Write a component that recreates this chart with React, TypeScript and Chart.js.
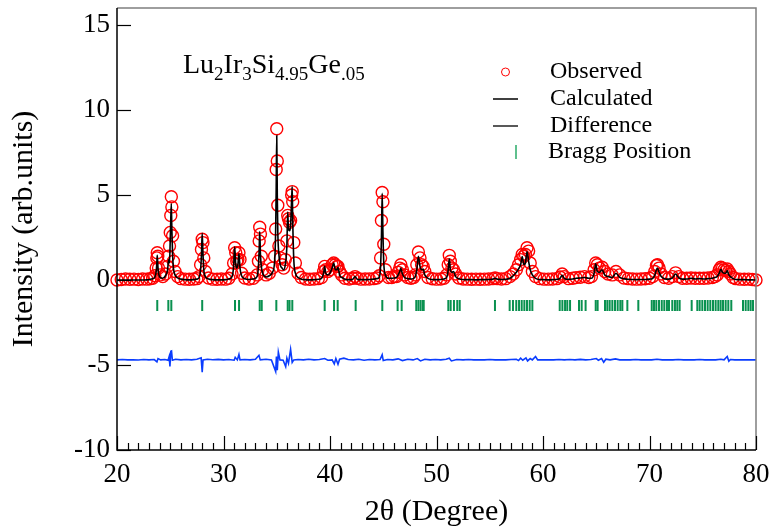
import React, { useEffect, useRef } from "react";
import { Chart, registerables } from "chart.js";

Chart.register(...registerables);

// ---- data (2θ in degrees, intensity in arb. units) ----
const twoTheta = [
  20, 20.4, 20.8, 21.2, 21.6, 22.0, 22.4, 22.8, 23.1, 23.35,
  23.55, 23.68, 23.74, 23.78, 23.83, 23.9, 24.05,
  24.3, 24.55,
  24.75, 24.85, 24.93, 25.0, 25.05, 25.1, 25.15, 25.22, 25.3, 25.45, 25.7,
  26.0, 26.4, 26.8, 27.2, 27.5,
  27.7, 27.85, 27.93, 28.0, 28.07, 28.15, 28.3, 28.6,
  29.0, 29.4, 29.8, 30.2, 30.5,
  30.8, 30.95, 31.05, 31.15, 31.25, 31.35, 31.45, 31.55, 31.7, 32.0,
  32.4, 32.8,
  33.15, 33.28, 33.35, 33.4, 33.47, 33.55, 33.7, 34.0,
  34.3, 34.6, 34.8, 34.9, 34.95, 35.0, 35.05, 35.1, 35.2, 35.35, 35.5,
  35.65, 35.8, 35.95, 36.03, 36.1, 36.2, 36.3, 36.4, 36.45, 36.5, 36.6, 36.75, 37.0, 37.3,
  37.7, 38.1, 38.5, 38.9,
  39.2, 39.4, 39.5, 39.6, 39.8, 40.0, 40.2, 40.35, 40.5, 40.65, 40.75, 40.9, 41.1, 41.4,
  41.8, 42.15, 42.35, 42.55, 42.9, 43.3, 43.7, 44.1, 44.4,
  44.62, 44.75, 44.83, 44.9, 44.97, 45.05, 45.2, 45.5,
  45.8, 46.05,
  46.25, 46.4, 46.55, 46.65, 46.8, 47.0, 47.3,
  47.6, 47.85,
  48.0, 48.15, 48.3, 48.45, 48.6, 48.75, 48.9, 49.2,
  49.6, 50.0, 50.4, 50.7,
  50.95, 51.1, 51.2, 51.3, 51.45, 51.6, 51.8, 52.1,
  52.5, 52.9, 53.3, 53.7, 54.1, 54.5, 54.9, 55.3, 55.5, 55.7, 56.1, 56.5,
  56.9, 57.2, 57.5, 57.7, 57.9, 58.05, 58.2, 58.35, 58.5, 58.65, 58.8, 59.0, 59.3, 59.7,
  60.1, 60.5, 60.9, 61.3, 61.6, 61.8, 62.0, 62.4, 62.8, 63.1, 63.5, 63.9, 64.3,
  64.55, 64.8, 64.95, 65.1, 65.3, 65.55, 65.8, 66.1, 66.5, 66.85, 67.2, 67.6,
  68.0, 68.4, 68.8, 69.2, 69.6, 70.0,
  70.3, 70.5, 70.65, 70.75, 70.9, 71.1, 71.4,
  71.8, 72.15, 72.45, 72.75, 73.1, 73.5, 73.9, 74.3, 74.7, 75.1, 75.5, 75.9, 76.15,
  76.35, 76.55, 76.7, 76.85, 77.0, 77.15, 77.3, 77.45, 77.6, 77.85, 78.1,
  78.5, 78.9, 79.3, 79.65, 80.0,
];

const observed = [
  0.0, 0.03, 0.06, 0.04, 0.05, 0.03, 0.06, 0.05, 0.07, 0.1,
  0.25, 0.7, 1.3, 1.6, 1.4, 0.7, 0.3,
  0.2, 0.35,
  0.8, 1.4, 2.0, 2.8, 3.8, 4.9, 4.3, 2.6, 1.1, 0.5, 0.2,
  0.08, 0.05, 0.04, 0.06, 0.08,
  0.2, 0.9, 1.8, 2.4, 2.2, 1.3, 0.5, 0.12,
  0.05, 0.04, 0.06, 0.05, 0.1,
  0.35, 1.0, 1.9, 1.6, 1.1, 1.2, 1.6, 1.2, 0.4, 0.12,
  0.06, 0.1,
  0.3, 1.1, 2.3, 3.1, 2.7, 1.4, 0.6, 0.3,
  0.4, 0.7, 1.4, 3.0, 6.5, 8.9, 7.0, 4.4, 2.0, 1.3, 0.9,
  0.7, 1.2, 2.3, 3.8, 3.6, 3.4, 3.5, 5.0, 5.2, 4.6, 2.2, 1.0, 0.4, 0.15,
  0.06, 0.04, 0.06, 0.08,
  0.15, 0.5, 0.8, 0.6, 0.5, 0.6, 0.9, 1.0, 0.9, 0.8, 0.8, 0.5, 0.3, 0.1,
  0.06, 0.1, 0.2, 0.1, 0.05, 0.06, 0.06, 0.08, 0.12,
  0.25, 1.3, 3.5, 5.15, 4.6, 2.1, 0.6, 0.15,
  0.15, 0.2,
  0.2, 0.45, 0.7, 0.9, 0.6, 0.3, 0.15,
  0.1, 0.15,
  0.3, 0.9, 1.65, 1.3, 0.9, 0.8, 0.5, 0.15,
  0.07, 0.05, 0.06, 0.1,
  0.3, 0.9, 1.45, 1.1, 0.7, 0.6, 0.35, 0.12,
  0.06, 0.05, 0.04, 0.05, 0.04, 0.05, 0.06, 0.08, 0.12, 0.08, 0.06, 0.08,
  0.2, 0.35, 0.6, 0.9, 1.2, 1.5, 1.4, 1.5, 1.9, 1.7, 1.0, 0.5, 0.2, 0.08,
  0.05, 0.05, 0.06, 0.08, 0.18, 0.35, 0.2, 0.08, 0.1, 0.14, 0.16, 0.2, 0.15,
  0.2, 0.6, 1.0, 0.9, 0.7, 0.75, 0.5, 0.35, 0.3, 0.5, 0.3, 0.12,
  0.08, 0.06, 0.05, 0.06, 0.07, 0.1,
  0.2, 0.5, 0.85, 0.9, 0.7, 0.35, 0.15,
  0.1, 0.2, 0.42, 0.2, 0.1, 0.1, 0.12, 0.1, 0.1, 0.1, 0.12, 0.15, 0.2,
  0.3, 0.6, 0.75, 0.7, 0.6, 0.55, 0.65, 0.5, 0.35, 0.15, 0.08,
  0.05, 0.04, 0.05, 0.03, 0.0,
];

const calculated = [
  0, 0, 0, 0, 0, 0, 0, 0.01, 0.03, 0.08,
  0.15, 0.5, 1.0, 1.45, 0.9, 0.4, 0.15,
  0.1, 0.25,
  0.6, 1.2, 1.0, 2.4, 3.6, 4.5, 3.0, 1.5, 0.7, 0.3, 0.12,
  0.05, 0.02, 0.01, 0.02, 0.05,
  0.12, 0.6, 1.5, 2.75, 1.6, 0.6, 0.2, 0.06,
  0.02, 0.01, 0.01, 0.02, 0.06,
  0.2, 0.8, 1.95, 0.9, 0.7, 0.9, 1.55, 0.7, 0.25, 0.07,
  0.03, 0.06,
  0.2, 0.8, 1.8, 2.85, 1.5, 0.8, 0.35, 0.18,
  0.25, 0.45, 1.1, 3.0, 5.5, 8.5, 5.0, 2.8, 1.5, 0.85, 0.7,
  0.6, 0.9, 2.0, 4.0, 3.0, 2.9, 3.2, 4.8, 5.5, 3.5, 1.2, 0.4, 0.15, 0.05,
  0.02, 0.01, 0.02, 0.04,
  0.1, 0.4, 0.8, 0.4, 0.3, 0.4, 0.7, 1.0, 0.6, 0.6, 0.75, 0.3, 0.15, 0.05,
  0.02, 0.05, 0.2, 0.05, 0.02, 0.02, 0.03, 0.05, 0.08,
  0.15, 0.8, 2.5, 5.1, 2.8, 1.0, 0.3, 0.1,
  0.1, 0.12,
  0.15, 0.3, 0.5, 0.7, 0.35, 0.15, 0.08,
  0.06, 0.1,
  0.2, 0.6, 1.4, 0.8, 0.6, 0.65, 0.3, 0.1,
  0.03, 0.02, 0.03, 0.06,
  0.15, 0.6, 1.25, 0.6, 0.45, 0.5, 0.2, 0.08,
  0.03, 0.02, 0.02, 0.01, 0.02, 0.02, 0.03, 0.05, 0.1, 0.05, 0.03, 0.04,
  0.1, 0.25, 0.45, 0.65, 0.9, 1.38, 0.9, 1.0, 1.68, 1.1, 0.6, 0.3, 0.1, 0.03,
  0.02, 0.01, 0.02, 0.04, 0.1, 0.28, 0.1, 0.04, 0.06, 0.1, 0.12, 0.15, 0.1,
  0.1, 0.4, 0.95, 0.5, 0.45, 0.6, 0.3, 0.2, 0.15, 0.4, 0.15, 0.08,
  0.04, 0.03, 0.02, 0.03, 0.03, 0.05,
  0.1, 0.3, 0.6, 0.7, 0.45, 0.2, 0.08,
  0.05, 0.12, 0.35, 0.12, 0.05, 0.06, 0.1, 0.06, 0.08, 0.06, 0.08, 0.1, 0.15,
  0.2, 0.4, 0.63, 0.45, 0.4, 0.4, 0.55, 0.3, 0.2, 0.08, 0.03,
  0.02, 0.02, 0.01, 0.01, 0.0,
];

const diffTheta = [
  20, 20.5, 21, 21.5, 22, 22.5, 23, 23.5, 23.75, 23.85,
  24.1, 24.5, 24.8, 24.9, 24.97, 25.05, 25.12, 25.2, 25.5, 26,
  26.5, 27, 27.5, 27.9, 28.0, 28.08, 28.5, 29, 29.5, 30,
  30.5, 31.0, 31.1, 31.3, 31.45, 31.55, 32, 32.5, 33.0, 33.33,
  33.45, 34.0, 34.5, 34.9, 34.97, 35.05, 35.15, 35.3, 35.6, 35.84,
  35.95, 36.1, 36.3, 36.45, 36.6, 37, 37.5, 38, 38.5, 39,
  39.5, 39.8, 40.2, 40.4, 40.55, 40.75, 40.9, 41.3, 41.7, 42.2,
  42.7, 43.2, 43.7, 44.2, 44.7, 44.9, 45.0, 45.4, 45.9, 46.4,
  46.8, 47.3, 47.8, 48.2, 48.5, 48.9, 49.4, 49.9, 50.4, 50.9,
  51.2, 51.4, 51.9, 52.5, 53, 53.5, 54, 54.5, 55, 55.5,
  56, 56.5, 57, 57.5, 57.7, 57.9, 58.1, 58.4, 58.55, 58.8,
  59.0, 59.3, 59.5, 60, 60.5, 61, 61.5, 62, 62.5, 63,
  63.5, 64, 64.5, 65.0, 65.2, 65.5, 65.7, 65.9, 66.3, 66.8,
  67.2, 67.7, 68.2, 68.7, 69.2, 69.7, 70.2, 70.7, 71.2, 71.7,
  72.2, 72.7, 73.2, 73.7, 74.2, 74.7, 75.2, 75.7, 76.2, 76.7,
  77.0, 77.3, 77.45, 77.6, 78, 78.5, 79, 79.5, 80,
];

const difference = [
  -4.7, -4.68, -4.7, -4.69, -4.71, -4.68, -4.7, -4.68, -4.82, -4.62,
  -4.7, -4.68, -4.72, -4.5, -5.09, -4.2, -4.18, -4.72, -4.66, -4.7,
  -4.68, -4.7, -4.66, -4.58, -5.43, -4.7, -4.66, -4.69, -4.67, -4.7,
  -4.68, -4.72, -4.55, -4.7, -4.38, -4.7, -4.68, -4.7, -4.66, -4.43,
  -4.7, -4.66, -4.7, -5.38, -4.5, -5.3, -4.24, -4.7, -4.72, -5.1,
  -4.6, -4.9, -4.08, -4.85, -4.7, -4.68, -4.7, -4.66, -4.7, -4.68,
  -4.62, -4.72, -4.7, -4.94, -4.62, -4.96, -4.66, -4.6, -4.68, -4.7,
  -4.66, -4.72, -4.68, -4.7, -4.68, -4.4, -4.74, -4.68, -4.7, -4.64,
  -4.74, -4.66, -4.7, -4.62, -4.76, -4.66, -4.7, -4.68, -4.7, -4.66,
  -4.6, -4.76, -4.68, -4.7, -4.68, -4.7, -4.69, -4.7, -4.68, -4.7,
  -4.69, -4.7, -4.68, -4.66, -4.74, -4.6, -4.72, -4.58, -4.76, -4.62,
  -4.7, -4.5, -4.7, -4.7, -4.69, -4.7, -4.68, -4.7, -4.68, -4.7,
  -4.67, -4.7, -4.68, -4.62, -4.72, -4.62, -4.84, -4.66, -4.7, -4.64,
  -4.7, -4.69, -4.7, -4.68, -4.7, -4.69, -4.7, -4.66, -4.7, -4.69,
  -4.7, -4.68, -4.7, -4.69, -4.7, -4.68, -4.7, -4.69, -4.7, -4.66,
  -4.7, -4.5, -4.78, -4.68, -4.7, -4.69, -4.7, -4.69, -4.7,
];

const braggPositions = [
  23.78, 24.82, 25.1, 28.0, 31.08, 31.46, 33.4, 33.59, 34.96, 36.03,
  36.2, 36.46, 39.5, 40.38, 40.72, 42.41, 44.91, 46.35, 46.73, 48.1,
  48.3, 48.5, 48.7, 48.8, 51.11, 51.33, 51.64, 51.95, 52.18, 55.49,
  56.87, 57.18, 57.49, 57.75, 58.0, 58.25, 58.5, 58.75, 59.0, 61.57,
  61.82, 62.07, 62.28, 62.54, 63.38, 63.63, 64.0, 64.95, 65.13, 65.82,
  66.04, 66.26, 66.51, 66.76, 67.01, 67.26, 67.45, 67.92, 68.95, 70.21,
  70.42, 70.64, 70.89, 71.15, 71.39, 71.64, 71.83, 72.14, 72.39, 72.61,
  72.83, 73.96, 74.49, 74.71, 74.96, 75.21, 75.46, 75.71, 75.96, 76.21,
  76.46, 76.68, 76.9, 77.15, 77.4, 77.68, 78.78, 79.03, 79.28, 79.5,
  79.72,
];
const braggLevel = -1.5;

const yTickValues = [-10, -5, 0, 5, 10, 15];
const legendLabels = ["Observed", "Calculated", "Difference", "Bragg Position"];

const SERIF = '"Liberation Serif", "Times New Roman", serif';

const decorPlugin = {
  id: "decor",
  afterDraw(chart: any) {
    const { ctx, chartArea: a, scales } = chart;
    const xs = scales.x;
    const ys = scales.y;
    ctx.save();
    // top & right frame
    ctx.strokeStyle = "#7f7f7f";
    ctx.lineWidth = 1.5;
    ctx.beginPath();
    ctx.moveTo(a.left, a.top);
    ctx.lineTo(a.right, a.top);
    ctx.lineTo(a.right, a.bottom);
    ctx.stroke();
    // left & bottom axes
    ctx.strokeStyle = "#000";
    ctx.lineWidth = 1.5;
    ctx.beginPath();
    ctx.moveTo(a.left, a.top);
    ctx.lineTo(a.left, a.bottom);
    ctx.lineTo(a.right, a.bottom);
    ctx.stroke();
    // y ticks (inward)
    ctx.lineWidth = 1.2;
    for (const v of yTickValues) {
      const py = Math.round(ys.getPixelForValue(v)) + 0.5;
      ctx.beginPath();
      ctx.moveTo(a.left, py);
      ctx.lineTo(a.left + 14, py);
      ctx.stroke();
    }
    // x ticks: major every 10, minor every 1
    for (let v = xs.min; v <= xs.max + 1e-9; v += 1) {
      const px = Math.round(xs.getPixelForValue(v)) + 0.5;
      const major = Math.abs(v % 10) < 1e-9;
      ctx.beginPath();
      ctx.moveTo(px, a.bottom);
      ctx.lineTo(px, a.bottom - (major ? 14 : 7));
      ctx.stroke();
    }

    // formula annotation
    ctx.fillStyle = "#000";
    ctx.textBaseline = "alphabetic";
    ctx.textAlign = "left";
    const parts: [string, boolean][] = [
      ["Lu", false], ["2", true], ["Ir", false], ["3", true],
      ["Si", false], ["4.95", true], ["Ge", false], [".05", true],
    ];
    let fx = 183;
    const base = 73;
    for (const [t, sub] of parts) {
      ctx.font = `${sub ? 19 : 28}px ${SERIF}`;
      ctx.fillText(t, fx, sub ? base + 7 : base);
      fx += ctx.measureText(t).width;
    }

    // legend
    const rows = [72, 99, 126, 152];
    ctx.font = `24px ${SERIF}`;
    ctx.textBaseline = "middle";
    legendLabels.forEach((lab, i) => {
      ctx.fillText(lab, i === 3 ? 548 : 550, rows[i]);
    });
    ctx.strokeStyle = "#ff0000";
    ctx.lineWidth = 1;
    ctx.beginPath();
    ctx.arc(505.5, rows[0], 4, 0, Math.PI * 2);
    ctx.stroke();
    ctx.strokeStyle = "#000";
    ctx.lineWidth = 1.5;
    ctx.beginPath();
    ctx.moveTo(493, rows[1]);
    ctx.lineTo(518, rows[1]);
    ctx.stroke();
    ctx.strokeStyle = "#222";
    ctx.beginPath();
    ctx.moveTo(493, rows[2]);
    ctx.lineTo(518, rows[2]);
    ctx.stroke();
    ctx.strokeStyle = "#5fc08e";
    ctx.lineWidth = 2;
    ctx.beginPath();
    ctx.moveTo(516, rows[3] - 7);
    ctx.lineTo(516, rows[3] + 7);
    ctx.stroke();
    ctx.restore();
  },
};

export default function App() {
  const ref = useRef<HTMLCanvasElement>(null);

  useEffect(() => {
    if (!ref.current) return;
    const obsData = twoTheta.map((x, i) => ({ x, y: observed[i] }));
    const calcData = twoTheta.map((x, i) => ({ x, y: calculated[i] }));
    const diffData = diffTheta.map((x, i) => ({ x, y: difference[i] }));
    const braggData = braggPositions.map((x) => ({ x, y: braggLevel }));

    const chart = new Chart(ref.current, {
      type: "scatter",
      data: {
        datasets: [
          {
            label: "Calculated",
            data: calcData,
            showLine: true,
            borderColor: "#000",
            borderWidth: 1.6,
            pointRadius: 0,
            cubicInterpolationMode: "monotone",
            order: 0,
          } as any,
          {
            label: "Observed",
            data: obsData,
            showLine: false,
            borderColor: "#ff0000",
            backgroundColor: "rgba(0,0,0,0)",
            borderWidth: 1.4,
            pointRadius: 6,
            order: 3,
            clip: false,
          } as any,
          {
            label: "Difference",
            data: diffData,
            showLine: true,
            borderColor: "#0a3cff",
            borderWidth: 1.6,
            pointRadius: 0,
            order: 1,
          } as any,
          {
            label: "Bragg Position",
            data: braggData,
            showLine: false,
            pointStyle: "line",
            rotation: 90,
            pointRadius: 5.5,
            borderColor: "#0a9150",
            borderWidth: 2,
            order: 2,
          } as any,
        ],
      },
      options: {
        responsive: false,
        animation: false,
        layout: { padding: { top: 8, right: 16, left: 0, bottom: 0 } },
        plugins: {
          legend: { display: false },
          tooltip: { enabled: false },
        },
        scales: {
          x: {
            type: "linear",
            min: 20,
            max: 80,
            grid: { display: false, drawTicks: false },
            border: { display: false },
            ticks: {
              stepSize: 10,
              color: "#000",
              padding: 9,
              font: { family: SERIF, size: 27 },
              maxRotation: 0,
            },
            title: {
              display: true,
              text: "2θ (Degree)",
              color: "#000",
              font: { family: SERIF, size: 30 },
              padding: { top: 0, bottom: 0 },
            },
            afterFit: (s: any) => {
              s.height = 80;
              s.paddingLeft = 0;
              s.paddingRight = 0;
            },
          },
          y: {
            type: "linear",
            min: -10,
            max: 16,
            grid: { display: false, drawTicks: false },
            border: { display: false },
            ticks: {
              stepSize: 5,
              includeBounds: false,
              color: "#000",
              padding: 7,
              font: { family: SERIF, size: 27 },
            },
            title: {
              display: true,
              text: "Intensity (arb.units)",
              color: "#000",
              font: { family: SERIF, size: 30 },
              padding: { top: 6, bottom: 0 },
            },
            afterFit: (s: any) => {
              s.width = 117;
              s.paddingTop = 0;
              s.paddingBottom = 0;
            },
          },
        },
      },
      plugins: [decorPlugin],
    });
    return () => chart.destroy();
  }, []);

  return (
    <div
      style={{
        position: "absolute",
        left: 0,
        top: 0,
        width: 772,
        height: 530,
        background: "#fff",
      }}
    >
      <canvas
        ref={ref}
        width={772}
        height={530}
        style={{ display: "block", width: 772, height: 530 }}
      />
    </div>
  );
}
